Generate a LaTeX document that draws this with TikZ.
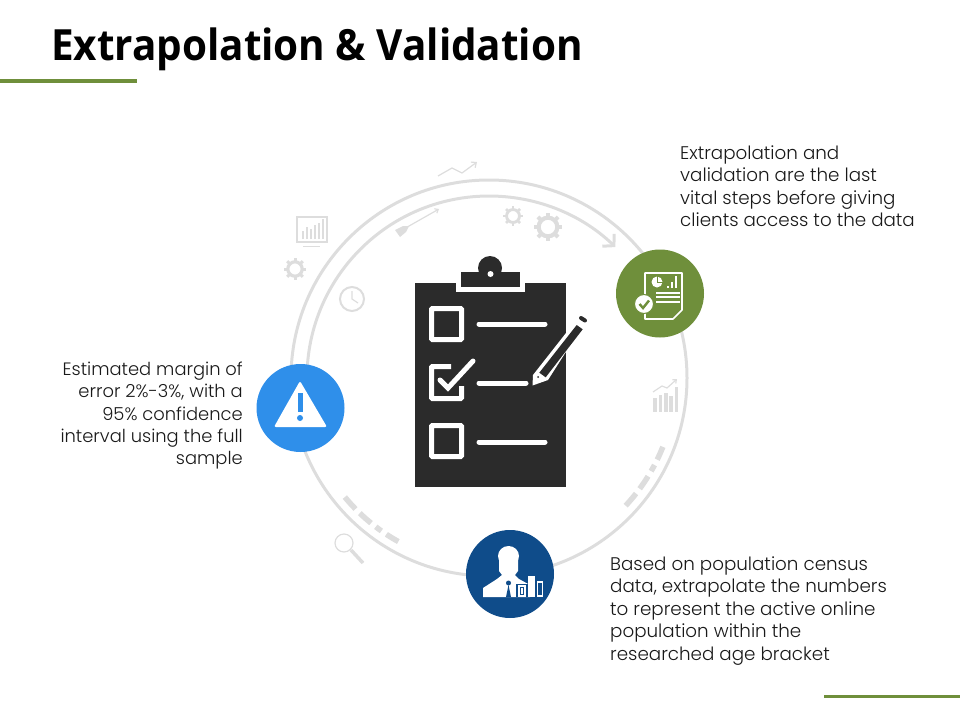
\documentclass[tikz,border=0pt]{standalone}
\usepackage{fontspec}
\setmainfont{Poppins}[UprightFont=* Light]
\newfontfamily\titlefont[FakeStretch=0.94]{Open Sans}
\usetikzlibrary{arrows.meta}
\definecolor{leaf}{HTML}{6F8F3B}
\definecolor{sky}{HTML}{2F8FEA}
\definecolor{navy}{HTML}{0F4C8A}
\definecolor{board}{HTML}{2B2B2B}
\definecolor{faint}{HTML}{DDDDDD}
\tikzset{
  badge/.style={circle,minimum size=88pt,inner sep=0pt},
  note/.style={inner sep=0pt,font=\fontsize{18.3}{22.4}\selectfont,text=black!90},
  ring/.style={faint,line width=3pt},
  broken/.style={faint,line width=5.5pt,dash pattern=on 14pt off 6pt on 7pt off 6pt on 15pt off 6pt on 16pt},
  tickbox/.style={white,line width=5pt,rounded corners=1pt},
  rule/.style={white,line width=5pt,line cap=round},
  ghost/.style={faint,line width=1.2pt},
}
\newcommand{\gearicon}[3]{%
  \draw[faint,line width=#3*0.32pt] (#1,#2) circle[radius=#3*0.72];
  \foreach \a in {0,45,...,315}
    \draw[faint,line width=#3*0.3pt] (#1,#2) ++(\a:#3*0.8) -- ++(\a:#3*0.3);
}
\begin{document}
\begin{tikzpicture}[x=1pt,y=-1pt]
  \useasboundingbox (0,0) rectangle (960,720);
  % title and bars
  \node[anchor=base west,inner sep=0pt,font=\titlefont\bfseries\fontsize{43}{50}\selectfont] (title) at (51,60) {Extrapolation \& Validation};
  \fill[leaf] (0,79) rectangle (137,83);
  \fill[leaf] (824,695) rectangle (960,698);
  % rings
  \coordinate (hub) at (489,378);
  \draw[ring] (hub) circle[radius=198];
  \draw[ring,-{Straight Barb[length=8pt,width=17pt]}] (hub) ++(176:182) arc[start angle=176,end angle=314,radius=182];
  \draw[broken] (hub) ++(21.6:187) arc[start angle=21.6,end angle=43.5,radius=187];
  \draw[broken] (hub) ++(119:187) arc[start angle=119,end angle=140.8,radius=187];
  % ghost icons
  \draw[ghost,-{Straight Barb[length=4pt,width=7pt]}] (438,176) -- (452,168) -- (462,173) -- (477,162);
  \draw[ghost,-{Straight Barb[length=3pt,width=5pt]}] (402,230) -- (439,209);
  \fill[faint] (395,230) -- (403,226) -- (409,226) -- (406,232) -- (400,237) -- cycle;
  \draw[ghost,fill=white] (297,217) rectangle (327,242);
  \foreach \px/\py in {303/231,307/227,311/229,315/225,319/223,323/219}
    \draw[ghost] (\px,239) -- (\px,\py);
  \draw[ghost] (303,246.5) -- (320,246.5);
  \gearicon{295}{269}{10}
  \gearicon{513}{216}{9}
  \gearicon{548}{227}{13}
  \draw[faint,line width=2pt] (352,299) circle[radius=12];
  \draw[ghost] (352,291) -- (352,299) -- (358,303);
  \draw[ghost] (344,543) circle[radius=9];
  \draw[faint,line width=3.5pt] (351,550) -- (363,563);
  \foreach \px/\py in {653/398,658.5/395,664/393,669/396,674.5/387}
    \fill[faint] (\px,412) rectangle (\px+3.5,\py);
  \draw[ghost,-{Straight Barb[length=3pt,width=5pt]}] (653,392) -- (662,386) -- (667,388) -- (677,379);
  % clipboard
  \fill[board] (415,283) rectangle (566,487);
  \fill[board] (490,268) circle[radius=12];
  \fill[white] (456,283) rectangle (525,292);
  \fill[board] (461,272) rectangle (520,287);
  \fill[white] (490.5,274) circle[radius=3];
  \draw[tickbox] (431.5,308.5) rectangle (461.5,339.5);
  \draw[tickbox] (431.5,425.5) rectangle (461.5,456.5);
  \draw[tickbox] (451,366.5) -- (431.5,366.5) -- (431.5,398.5) -- (461.5,398.5) -- (461.5,386);
  \draw[rule] (440,380) -- (448,388) -- (473,361);
  \draw[rule] (479,324) -- (545,324);
  \draw[rule] (479,383) -- (526,383);
  \draw[rule] (479,442) -- (545,442);
  % pencil
  \fill[white] (532.5,385.5) -- (533,375) -- (577,319) -- (583,325) -- (548,380) -- cycle;
  \fill[board] (539.3,372.7) -- (576.7,325) -- (582.7,329.3) -- (545.7,377.3) -- cycle;
  \fill[board] (538,377) circle[radius=1];
  \draw[board,line width=4pt,line cap=round] (581,318) -- (585,320.5);
  % badges
  \node[badge,fill=leaf] (report) at (660,293.5) {};
  \node[badge,fill=sky] (alert) at (300.5,408) {};
  \node[badge,fill=navy] (analyst) at (510,574) {};
  % report icon
  \draw[white,line width=1.6pt,line join=round] (645,273) -- (682,273) -- (682,310) -- (673,319) -- (645,319) -- cycle;
  \fill[white] (657,282) circle[radius=5.5];
  \draw[leaf,line width=1pt] (657,276) -- (657,282) -- (663,282);
  \foreach \px/\py in {668/286,672/282,676/276}
    \draw[white,line width=2pt] (\px,288) -- (\px,\py);
  \foreach \py in {293,297,302}
    \draw[white,line width=1.5pt] (656,\py) -- (680,\py);
  \fill[white,draw=leaf,line width=1pt] (644,304) circle[radius=9.5];
  \draw[leaf,line width=2.4pt] (639.5,304) -- (643,308) -- (649,300.5);
  % alert icon
  \fill[white,rounded corners=2pt] (300,381) -- (327,427) -- (274,427) -- cycle;
  \draw[sky,line width=5pt] (300,393) -- (300,412);
  \fill[sky] (300,418) circle[radius=3];
  % analyst icon
  \fill[white] (508.5,556) ellipse[x radius=10.5,y radius=10];
  \fill[white] (499,556) -- (518,556) -- (518,571) -- (515,575) -- (502,575) -- (499,571) -- cycle;
  \fill[white] (483,597) -- (483,588) -- (497,579) -- (502,575) -- (515,575) -- (519,579) -- (530,585) -- (530,597) -- cycle;
  \fill[navy] (508.5,583) circle[radius=2.5];
  \fill[navy] (508.5,585) -- (511,597) -- (506,597) -- cycle;
  \fill[navy] (516,584) rectangle (546,597);
  \fill[white] (527.5,576) rectangle (535,597);
  \draw[white,line width=1.2pt] (537.5,582) rectangle (542.5,596);
  \draw[white,line width=1.2pt] (519,586) rectangle (525,596);
  \fill[white] (521,588) rectangle (523,594);
  % notes
  \node[note,anchor=north west,align=left] (top note) at (680,145.5) {Extrapolation and\\validation are the last\\vital steps before giving\\clients access to the data};
  \node[note,font=\fontsize{17.9}{22.4}\selectfont,anchor=north east,align=right] (left note) at (243,361.5) {Estimated margin of\\error 2\%-3\%, with a\\95\% confidence\\interval using the full\\sample};
  \node[note,anchor=north west,align=left] (bottom note) at (610,556.5) {Based on population census\\data, extrapolate the numbers\\to represent the active online\\population within the\\researched age bracket};
\end{tikzpicture}
\end{document}
